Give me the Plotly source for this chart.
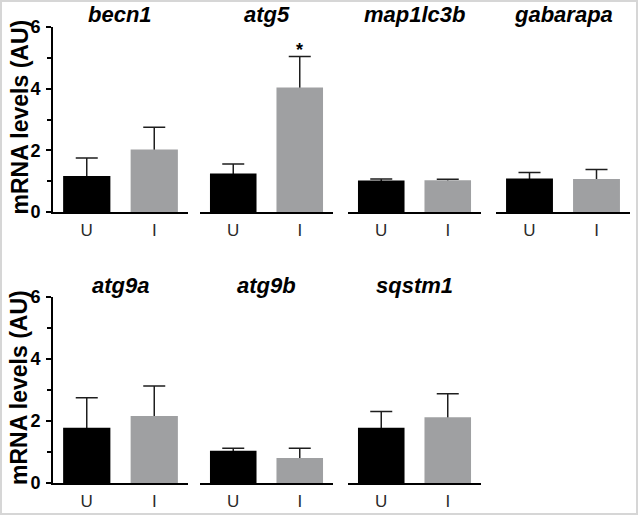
import plotly.graph_objects as go

# values (mRNA levels, AU)
genes = ["becn1", "atg5", "map1lc3b", "gabarapa", "atg9a", "atg9b", "sqstm1"]
groups = ["U", "I"]
u_means = [1.17, 1.25, 1.02, 1.09, 1.78, 1.04, 1.78]
u_err = [0.58, 0.31, 0.05, 0.19, 0.97, 0.08, 0.53]
i_means = [2.03, 4.04, 1.03, 1.07, 2.16, 0.81, 2.12]
i_err = [0.72, 1.00, 0.03, 0.31, 0.97, 0.31, 0.76]
marks = ["", "*", "", "", "", "", ""]
y_ticks = [0, 2, 4, 6]

W, H = 638, 515
FONT = "Liberation Sans, Arial, sans-serif"
U_COLOR = "#000000"
I_COLOR = "#9fa0a2"

# panel geometry in pixels
col_px = [(53, 188), (200, 333), (348, 481), (496, 630)]
row_px = [(27, 212), (297, 483)]  # (pixel of y=6, pixel of y=0)

N = len(genes)
fig = go.Figure()
layout = {}
annotations = []

for k, gene in enumerate(genes):
    row, col = divmod(k, 4)
    n = k + 1
    m = n + N  # overlay axis holding the bars, drawn above the error bars
    xa = "x" if n == 1 else f"x{n}"
    ya = "y" if n == 1 else f"y{n}"
    yb = f"y{m}"
    x0, x1 = col_px[col]
    top, bottom = row_px[row]
    xdom = [x0 / W, x1 / W]
    ydom = [1 - bottom / H, 1 - top / H]
    means = [u_means[k], i_means[k]]

    # error bars: lower whisker runs down to 0 and is hidden behind the bars
    fig.add_trace(go.Scatter(
        x=groups, y=means, mode="markers",
        marker=dict(size=1, opacity=0),
        error_y=dict(type="data", symmetric=False,
                     array=[u_err[k], i_err[k]], arrayminus=means,
                     color="#1e1e1e", thickness=1.5, width=11),
        xaxis=xa, yaxis=ya, showlegend=False, hoverinfo="skip",
    ))
    fig.add_trace(go.Bar(
        x=groups, y=means,
        marker=dict(color=[U_COLOR, I_COLOR], line=dict(width=0)),
        width=0.7, xaxis=xa, yaxis=yb, showlegend=False,
    ))

    first = col == 0
    layout["xaxis" if n == 1 else f"xaxis{n}"] = dict(
        domain=xdom, anchor=ya, range=[-0.5, 1.5],
        showline=True, linecolor="black", linewidth=1.8,
        ticks="", showgrid=False, zeroline=False,
        tickfont=dict(family=FONT, size=17, color="#2a2a2a"),
        ticklabelstandoff=2, fixedrange=True,
    )
    layout["yaxis" if n == 1 else f"yaxis{n}"] = dict(
        domain=ydom, anchor=xa, range=[0, 6],
        visible=first,
        showline=True, linecolor="black", linewidth=1.8,
        ticks="outside", ticklen=5, tickwidth=1.5, tickcolor="black",
        tickvals=y_ticks,
        minor=dict(ticks="outside", dtick=1, ticklen=4, tickwidth=1.5, tickcolor="black"),
        showgrid=False, zeroline=False,
        tickfont=dict(family=FONT, size=18, color="black", weight="bold"),
        ticklabelstandoff=2,
    )
    layout[f"yaxis{m}"] = dict(
        overlaying=ya, anchor=xa, range=[0, 6], visible=False,
        showgrid=False, zeroline=False,
    )

    annotations.append(dict(
        text=f"<b><i>{gene}</i></b>", xref="paper", yref="paper",
        x=(x0 + x1) / 2 / W, y=1 - (top - 12) / H,
        showarrow=False, font=dict(family=FONT, size=22, color="black"),
        xanchor="center", yanchor="middle",
    ))
    if marks[k]:
        annotations.append(dict(
            text=f"<b>{marks[k]}</b>", xref=xa, yref=ya,
            x=groups[1], y=i_means[k] + i_err[k], yshift=7,
            showarrow=False, font=dict(family=FONT, size=18, color="black"),
        ))

for top, bottom in row_px:
    annotations.append(dict(
        text="<b>mRNA levels (AU)</b>", xref="paper", yref="paper",
        x=19 / W, y=1 - ((top + bottom) / 2 - 2) / H, textangle=-90,
        showarrow=False, font=dict(family=FONT, size=23, color="black"),
        xanchor="center", yanchor="middle",
    ))

fig.update_layout(
    **layout,
    annotations=annotations,
    width=W, height=H,
    margin=dict(l=0, r=0, t=0, b=0, autoexpand=False),
    paper_bgcolor="white", plot_bgcolor="white",
    shapes=[dict(type="rect", xref="paper", yref="paper", x0=0, y0=0, x1=1, y1=1,
                 line=dict(color="#d6d6d6", width=4))],
)

fig.write_html("out.html", config={"displayModeBar": False},
               post_script="document.body.style.margin='0px';")
